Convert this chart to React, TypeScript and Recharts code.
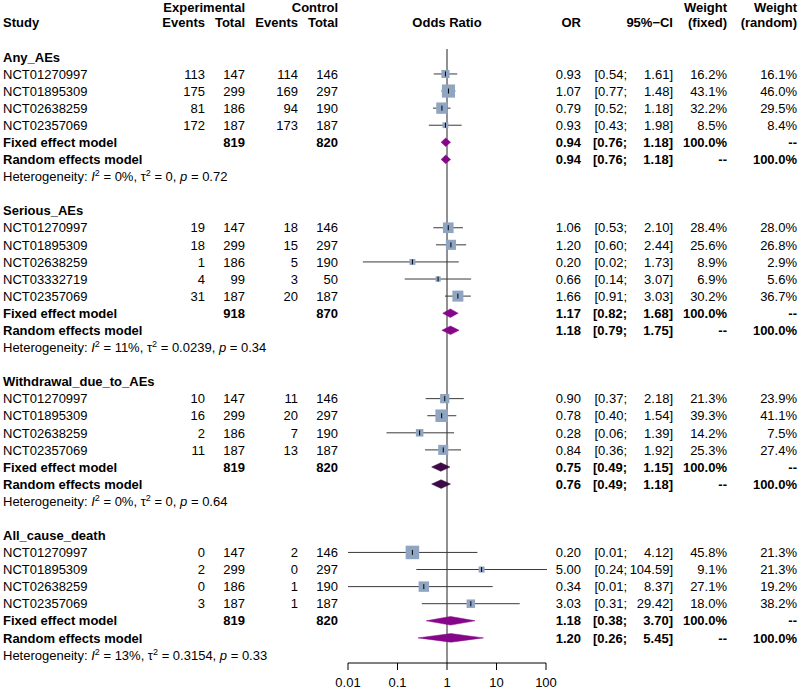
import React from "react";
import { ScatterChart, Scatter, XAxis, YAxis, ErrorBar, ReferenceLine } from "recharts";

const groupNames = ["Any_AEs", "Serious_AEs", "Withdrawal_due_to_AEs", "All_cause_death"];
const groupSizes = [4, 5, 4, 4];

const studies = [
  "NCT01270997", "NCT01895309", "NCT02638259", "NCT02357069",
  "NCT01270997", "NCT01895309", "NCT02638259", "NCT03332719", "NCT02357069",
  "NCT01270997", "NCT01895309", "NCT02638259", "NCT02357069",
  "NCT01270997", "NCT01895309", "NCT02638259", "NCT02357069",
];
const expEvents = [113, 175, 81, 172, 19, 18, 1, 4, 31, 10, 16, 2, 11, 0, 2, 0, 3];
const expTotal = [147, 299, 186, 187, 147, 299, 186, 99, 187, 147, 299, 186, 187, 147, 299, 186, 187];
const ctrlEvents = [114, 169, 94, 173, 18, 15, 5, 3, 20, 11, 20, 7, 13, 2, 0, 1, 1];
const ctrlTotal = [146, 297, 190, 187, 146, 297, 190, 50, 187, 146, 297, 190, 187, 146, 297, 190, 187];
const oddsRatio = [0.93, 1.07, 0.79, 0.93, 1.06, 1.2, 0.2, 0.66, 1.66, 0.9, 0.78, 0.28, 0.84, 0.2, 5.0, 0.34, 3.03];
const ciLower = [0.54, 0.77, 0.52, 0.43, 0.53, 0.6, 0.02, 0.14, 0.91, 0.37, 0.4, 0.06, 0.36, 0.01, 0.24, 0.01, 0.31];
const ciUpper = [1.61, 1.48, 1.18, 1.98, 2.1, 2.44, 1.73, 3.07, 3.03, 2.18, 1.54, 1.39, 1.92, 4.12, 104.59, 8.37, 29.42];
const weightFixed = [16.2, 43.1, 32.2, 8.5, 28.4, 25.6, 8.9, 6.9, 30.2, 21.3, 39.3, 14.2, 25.3, 45.8, 9.1, 27.1, 18.0];
const weightRandom = [16.1, 46.0, 29.5, 8.4, 28.0, 26.8, 2.9, 5.6, 36.7, 23.9, 41.1, 7.5, 27.4, 21.3, 21.3, 19.2, 38.2];

const expSum = [819, 918, 819, 819];
const ctrlSum = [820, 870, 820, 820];
const fixedOR = [0.94, 1.17, 0.75, 1.18];
const fixedLower = [0.76, 0.82, 0.49, 0.38];
const fixedUpper = [1.18, 1.68, 1.15, 3.7];
const randomOR = [0.94, 1.18, 0.76, 1.2];
const randomLower = [0.76, 0.79, 0.49, 0.26];
const randomUpper = [1.18, 1.75, 1.18, 5.45];
const hetI2 = ["0%", "11%", "0%", "13%"];
const hetTau2 = ["0", "0.0239", "0", "0.3154"];
const hetP = ["0.72", "0.34", "0.64", "0.33"];

const axisTicks = [0.01, 0.1, 1, 10, 100];

const FONT = "'Liberation Sans', Arial, Helvetica, sans-serif";
const BOX = "#8FA5C2";
const LINE = "#3a3a3a";
const diamondColors = ["#860689", "#860689", "#3E0A45", "#860689"];

// column anchors
const X_LEFT = 3;
const X_EXP_EV = 205;
const X_EXP_TOT = 245;
const X_CTL_EV = 298;
const X_CTL_TOT = 338;
const X_OR = 581;
const X_LO = 627;
const X_HI = 673;
const X_WF = 727;
const X_WR = 797;

type RowDef = { row: number; kind: string; g: number; i: number };

const rowDefs: RowDef[] = [
  { row: 0, kind: "head0", g: -1, i: -1 },
  { row: 1, kind: "head1", g: -1, i: -1 },
];
const studyPts: any[] = [];
const diamonds: any[] = [];

let r = 3;
let k = 0;
groupNames.forEach((_, g) => {
  const n = groupSizes[g];
  rowDefs.push({ row: r, kind: "title", g, i: -1 });
  for (let j = 0; j < n; j++, k++) {
    rowDefs.push({ row: r + 1 + j, kind: "study", g, i: k });
    studyPts.push({
      x: oddsRatio[k],
      y: r + 1 + j,
      err: [oddsRatio[k] - ciLower[k], ciUpper[k] - oddsRatio[k]],
      w: weightFixed[k],
    });
  }
  rowDefs.push({ row: r + n + 1, kind: "fixed", g, i: -1 });
  rowDefs.push({ row: r + n + 2, kind: "random", g, i: -1 });
  rowDefs.push({ row: r + n + 3, kind: "het", g, i: -1 });
  diamonds.push({ y: r + n + 1, est: fixedOR[g], lo: fixedLower[g], hi: fixedUpper[g], g });
  diamonds.push({ y: r + n + 2, est: randomOR[g], lo: randomLower[g], hi: randomUpper[g], g });
  r += n + 5;
});

const rowMap = new Map(rowDefs.map((d) => [d.row, d]));
const rowTicks = rowDefs.map((d) => d.row);

const f2 = (v: number) => v.toFixed(2);
const pct = (v: number) => v.toFixed(1) + "%";

function T({ x, y, anchor = "end", bold = false, children }: any) {
  return (
    <text
      x={x}
      y={y}
      textAnchor={anchor}
      fontSize={13}
      fontFamily={FONT}
      fontWeight={bold ? "bold" : "normal"}
      fill="#000"
    >
      {children}
    </text>
  );
}

function RowText(props: any) {
  const def = rowMap.get(props.payload.value);
  if (!def) return <g />;
  const y = props.y + 4.7;
  if (def.kind === "head0") {
    const y0 = y + 2;
    return (
      <g>
        <T x={X_EXP_TOT} y={y0} bold>Experimental</T>
        <T x={X_CTL_TOT} y={y0} bold>Control</T>
        <T x={X_WF} y={y0} bold>Weight</T>
        <T x={X_WR} y={y0} bold>Weight</T>
      </g>
    );
  }
  if (def.kind === "head1") {
    return (
      <g>
        <T x={X_LEFT} y={y} anchor="start" bold>Study</T>
        <T x={X_EXP_EV} y={y} bold>Events</T>
        <T x={X_EXP_TOT} y={y} bold>Total</T>
        <T x={X_CTL_EV} y={y} bold>Events</T>
        <T x={X_CTL_TOT} y={y} bold>Total</T>
        <T x={447} y={y} anchor="middle" bold>Odds Ratio</T>
        <T x={X_OR} y={y} bold>OR</T>
        <T x={X_HI} y={y} bold>95%−CI</T>
        <T x={X_WF} y={y} bold>(fixed)</T>
        <T x={X_WR} y={y} bold>(random)</T>
      </g>
    );
  }
  const g = def.g;
  if (def.kind === "title") {
    return <T x={X_LEFT} y={y} anchor="start" bold>{groupNames[g]}</T>;
  }
  if (def.kind === "study") {
    const i = def.i;
    return (
      <g>
        <T x={X_LEFT} y={y} anchor="start">{studies[i]}</T>
        <T x={X_EXP_EV} y={y}>{expEvents[i]}</T>
        <T x={X_EXP_TOT} y={y}>{expTotal[i]}</T>
        <T x={X_CTL_EV} y={y}>{ctrlEvents[i]}</T>
        <T x={X_CTL_TOT} y={y}>{ctrlTotal[i]}</T>
        <T x={X_OR} y={y}>{f2(oddsRatio[i])}</T>
        <T x={X_LO} y={y}>{"[" + f2(ciLower[i]) + ";"}</T>
        <T x={X_HI} y={y}>{f2(ciUpper[i]) + "]"}</T>
        <T x={X_WF} y={y}>{pct(weightFixed[i])}</T>
        <T x={X_WR} y={y}>{pct(weightRandom[i])}</T>
      </g>
    );
  }
  if (def.kind === "fixed") {
    return (
      <g>
        <T x={X_LEFT} y={y} anchor="start" bold>Fixed effect model</T>
        <T x={X_EXP_TOT} y={y} bold>{expSum[g]}</T>
        <T x={X_CTL_TOT} y={y} bold>{ctrlSum[g]}</T>
        <T x={X_OR} y={y} bold>{f2(fixedOR[g])}</T>
        <T x={X_LO} y={y} bold>{"[" + f2(fixedLower[g]) + ";"}</T>
        <T x={X_HI} y={y} bold>{f2(fixedUpper[g]) + "]"}</T>
        <T x={X_WF} y={y} bold>100.0%</T>
        <T x={X_WR} y={y} bold>--</T>
      </g>
    );
  }
  if (def.kind === "random") {
    return (
      <g>
        <T x={X_LEFT} y={y} anchor="start" bold>Random effects model</T>
        <T x={X_OR} y={y} bold>{f2(randomOR[g])}</T>
        <T x={X_LO} y={y} bold>{"[" + f2(randomLower[g]) + ";"}</T>
        <T x={X_HI} y={y} bold>{f2(randomUpper[g]) + "]"}</T>
        <T x={X_WF} y={y} bold>--</T>
        <T x={X_WR} y={y} bold>100.0%</T>
      </g>
    );
  }
  // heterogeneity line
  return (
    <text x={X_LEFT} y={y} fontSize={13} fontFamily={FONT} fill="#000">
      {"Heterogeneity: "}
      <tspan fontStyle="italic">I</tspan>
      <tspan fontSize={9} dy={-5}>2</tspan>
      <tspan dy={5}>{" = " + hetI2[g] + ", τ"}</tspan>
      <tspan fontSize={9} dy={-5}>2</tspan>
      <tspan dy={5}>{" = " + hetTau2[g] + ", "}</tspan>
      <tspan fontStyle="italic">p</tspan>
      <tspan>{" = " + hetP[g]}</tspan>
    </text>
  );
}

function XTick(props: any) {
  return (
    <text
      x={props.x}
      y={props.y + 15}
      textAnchor="middle"
      fontSize={13}
      fontFamily={FONT}
      fill="#000"
    >
      {String(props.payload.value)}
    </text>
  );
}

const makeDiamond = (d: any) => (p: any) => {
  const x1 = Number(p.x1);
  const x2 = Number(p.x2);
  const y = Number(p.y1);
  const t = (Math.log(d.est) - Math.log(d.lo)) / (Math.log(d.hi) - Math.log(d.lo));
  const xm = x1 + t * (x2 - x1);
  const c = diamondColors[d.g];
  return (
    <polygon
      points={`${x1},${y} ${xm},${y - 4.3} ${x2},${y} ${xm},${y + 4.3}`}
      fill={c}
      stroke={c}
      strokeWidth={0.5}
    />
  );
};

export default function App() {
  return (
    <div style={{ position: "absolute", left: 0, top: 0, width: 800, height: 695, background: "#fff", fontFamily: FONT }}>
      <ScatterChart width={800} height={695} margin={{ top: 5.6, right: 254, bottom: 2, left: 347 }}>
        <XAxis
          type="number"
          dataKey="x"
          scale="log"
          domain={[0.01, 100]}
          allowDataOverflow
          ticks={axisTicks}
          interval={0}
          height={30}
          tickSize={7}
          stroke="#000"
          tick={(p: any) => <XTick {...p} />}
        />
        <YAxis
          type="number"
          dataKey="y"
          domain={[0, 38.47]}
          allowDataOverflow
          reversed
          width={1}
          ticks={rowTicks}
          interval={0}
          axisLine={false}
          tickLine={false}
          tick={(p: any) => <RowText {...p} />}
        />
        <ReferenceLine
          segment={[{ x: 1, y: 2.54 }, { x: 1, y: 38.47 }]}
          stroke="#222"
          strokeWidth={1}
          ifOverflow="visible"
        />
        <Scatter
          data={studyPts}
          isAnimationActive={false}
          shape={(p: any) => {
            const s = 2 * Math.sqrt(p.payload.w);
            return <rect x={p.cx - s / 2} y={p.cy - s / 2} width={s} height={s} fill={BOX} />;
          }}
        />
        <Scatter
          data={studyPts}
          isAnimationActive={false}
          shape={(p: any) => (
            <line x1={p.cx} x2={p.cx} y1={p.cy - 2.5} y2={p.cy + 2.5} stroke="#000" strokeWidth={1} />
          )}
        >
          <ErrorBar dataKey="err" direction="x" width={0} stroke={LINE} strokeWidth={1} isAnimationActive={false} />
        </Scatter>
        {diamonds.map((d, idx) => (
          <ReferenceLine
            key={idx}
            segment={[{ x: d.lo, y: d.y }, { x: d.hi, y: d.y }]}
            ifOverflow="visible"
            shape={makeDiamond(d)}
          />
        ))}
      </ScatterChart>
    </div>
  );
}
